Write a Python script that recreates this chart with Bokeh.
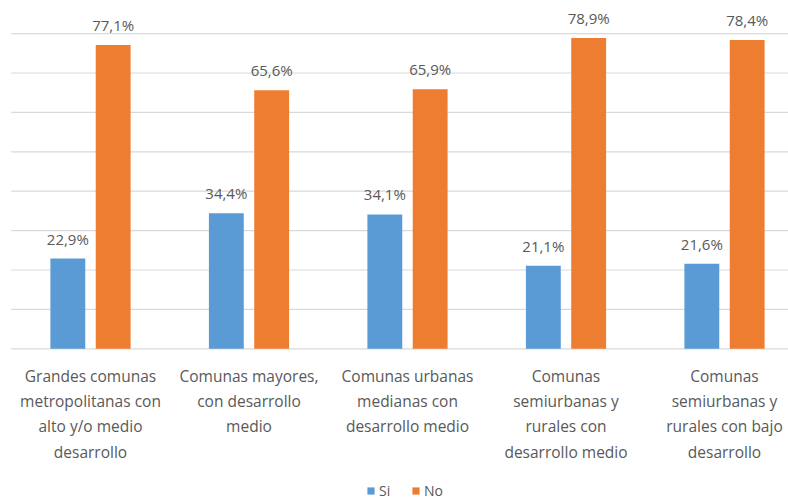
from bokeh.plotting import figure
from bokeh.models import ColumnDataSource, Range1d, Legend, LegendItem
from bokeh.core.properties import value
from bokeh.embed import file_html
from bokeh.resources import INLINE

categories = [
    "Grandes comunas\nmetropolitanas con\nalto y/o medio\ndesarrollo",
    "Comunas mayores,\ncon desarrollo\nmedio",
    "Comunas urbanas\nmedianas con\ndesarrollo medio",
    "Comunas\nsemiurbanas y\nrurales con\ndesarrollo medio",
    "Comunas\nsemiurbanas y\nrurales con bajo\ndesarrollo",
]
si = [22.9, 34.4, 34.1, 21.1, 21.6]
no = [77.1, 65.6, 65.9, 78.9, 78.4]
series_names = ["Si", "No"]
grid_ticks = [0, 10, 20, 30, 40, 50, 60, 70, 80]

BLUE = "#5B9BD5"
ORANGE = "#ED7D31"
TEXT = "#595959"
FONT = "Open Sans"

W, H = 788, 500
px_per_cat = 158.5
first_center_px = 90
x_start = -first_center_px / px_per_cat
x_end = x_start + W / px_per_cat
px_per_unit = 3.94
base_px = 348.3
y_end = base_px / px_per_unit
y_start = -(H - base_px) / px_per_unit

p = figure(width=W, height=H, x_range=Range1d(x_start, x_end),
           y_range=Range1d(y_start, y_end), output_backend="svg",
           toolbar_location=None, min_border=0, min_border_left=0,
           min_border_right=0, min_border_top=0, min_border_bottom=0)
p.axis.visible = False
p.grid.visible = False
p.outline_line_color = None
p.background_fill_color = "white"
p.border_fill_color = "white"

n = len(categories)
idx = list(range(n))

# gridlines
gsrc = ColumnDataSource(dict(x0=[-0.5] * len(grid_ticks), x1=[n - 0.5] * len(grid_ticks),
                             y=grid_ticks))
p.segment(x0="x0", x1="x1", y0="y", y1="y", source=gsrc, line_color="#D9D9D9", line_width=1.2)

off = 0.143
bw = 0.22
src = ColumnDataSource(dict(
    xs=[i - off for i in idx], xn=[i + off for i in idx],
    si=si, no=no,
    si_lab=[f"{v:.1f}".replace(".", ",") + "%" for v in si],
    no_lab=[f"{v:.1f}".replace(".", ",") + "%" for v in no],
    xc=idx, cat=categories, zero=[0] * n,
))
r_si = p.vbar(x="xs", top="si", width=bw, source=src, fill_color=BLUE, line_color=None)
r_no = p.vbar(x="xn", top="no", width=bw, source=src, fill_color=ORANGE, line_color=None)

for xcol, ycol, lab in (("xs", "si", "si_lab"), ("xn", "no", "no_lab")):
    p.text(x=xcol, y=ycol, text=lab, source=src, text_font=value(FONT),
           text_font_size="15px", text_color=TEXT, text_align="center",
           text_baseline="middle", y_offset=-20)

p.text(x="xc", y="zero", text="cat", source=src, text_font=value(FONT),
       text_font_size="15.5px", text_color=TEXT, text_align="center",
       text_baseline="top", y_offset=16, text_line_height=1.15)

legend = Legend(items=[LegendItem(label=series_names[0], renderers=[r_si]),
                       LegendItem(label=series_names[1], renderers=[r_no])],
                orientation="horizontal", location=(366, 0))
legend.label_text_font = FONT
legend.label_text_font_size = "14px"
legend.label_text_color = TEXT
legend.glyph_width = 9
legend.glyph_height = 9
legend.label_standoff = 4
legend.spacing = 12
legend.padding = 2
legend.margin = 0
legend.border_line_color = None
legend.background_fill_alpha = 0
p.add_layout(legend)

open("out.html", "w").write(file_html(p, INLINE))
